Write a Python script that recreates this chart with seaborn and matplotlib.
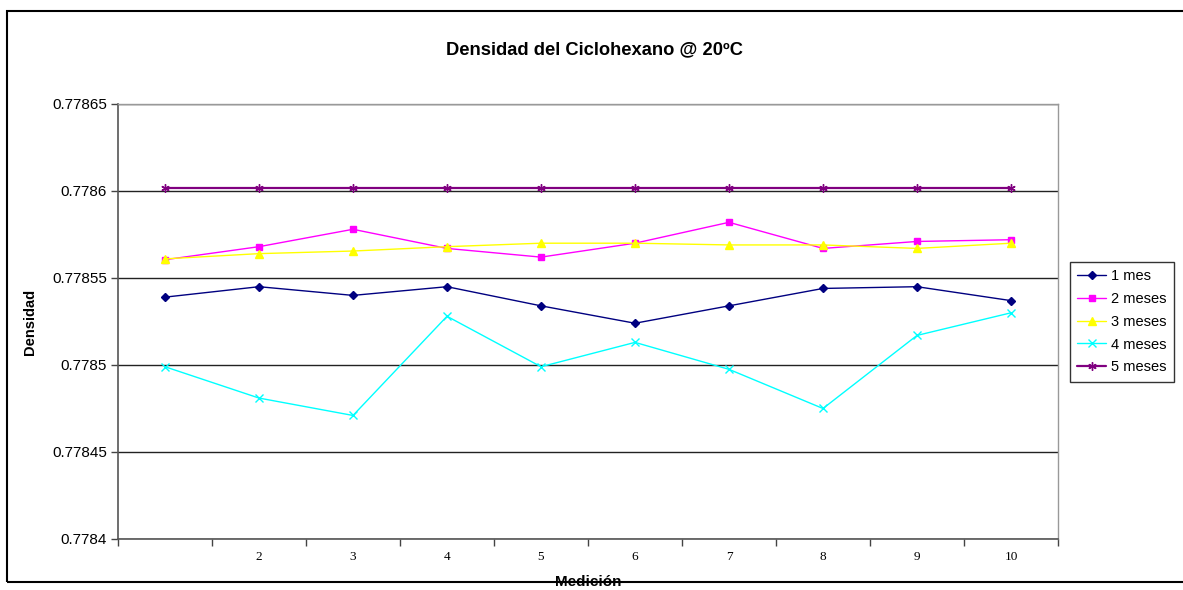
import numpy as np
import matplotlib
matplotlib.use("Agg")
import matplotlib.pyplot as plt
from matplotlib.patches import Rectangle
from matplotlib.ticker import MultipleLocator, FixedLocator, FuncFormatter
import seaborn as sns

# Measurement index and density readings for each ageing period
medicion = [1, 2, 3, 4, 5, 6, 7, 8, 9, 10]
x_labels = ["", "2", "3", "4", "5", "6", "7", "8", "9", "10"]

mes_1 = [0.778539, 0.778545, 0.778540, 0.778545, 0.778534,
         0.778524, 0.778534, 0.778544, 0.778545, 0.778537]
meses_2 = [0.7785605, 0.778568, 0.778578, 0.778567, 0.778562,
           0.778570, 0.778582, 0.778567, 0.778571, 0.778572]
meses_3 = [0.778561, 0.778564, 0.7785655, 0.778568, 0.778570,
           0.778570, 0.778569, 0.778569, 0.778567, 0.778570]
meses_4 = [0.778499, 0.778481, 0.778471, 0.778528, 0.778499,
           0.778513, 0.7784975, 0.778475, 0.778517, 0.778530]
meses_5 = [0.778602, 0.778602, 0.778602, 0.778602, 0.778602,
           0.778602, 0.778602, 0.778602, 0.778602, 0.778602]

series_names = ["1 mes", "2 meses", "3 meses", "4 meses", "5 meses"]
series_values = [mes_1, meses_2, meses_3, meses_4, meses_5]
series_colors = ["#000080", "#FF00FF", "#FFFF00", "#00FFFF", "#800080"]
series_markers = ["D", "s", "^", "x", (6, 2, 0)]
series_msizes = [4.5, 5.0, 5.5, 6.0, 6.0]
series_widths = [1.0, 1.0, 1.0, 1.0, 1.6]

sns.set_theme(style="white")
plt.rcParams["font.family"] = ["Liberation Sans", "DejaVu Sans"]
plt.rcParams.update({
    "text.color": "black",
    "axes.labelcolor": "black",
    "xtick.color": "black",
    "ytick.color": "black",
})

fig = plt.figure(figsize=(11.83, 5.90), dpi=100)
ax = fig.add_axes([118 / 1183, 1 - 539 / 590, 940 / 1183, 435 / 590])

for name, vals, col, mk, ms, lw in zip(series_names, series_values,
                                       series_colors, series_markers,
                                       series_msizes, series_widths):
    sns.lineplot(x=medicion, y=vals, color=col, marker=mk, markersize=ms,
                 markeredgecolor=col, markeredgewidth=1.0, linewidth=lw,
                 label=name, ax=ax)

ax.set_xlim(0.5, 10.5)
ax.set_ylim(0.7784, 0.77865)

# y axis: ticks every 0.00005, horizontal grid lines
ax.yaxis.set_major_locator(MultipleLocator(0.00005))
ax.yaxis.set_major_formatter(FuncFormatter(lambda v, p: f"{v:.5f}".rstrip("0")))
ax.grid(axis="y", color="#222222", linewidth=1.0)
ax.grid(axis="x", visible=False)
ax.tick_params(axis="y", which="major", left=True, length=5, width=1,
               color="#444444", labelsize=11, pad=3)

# x axis: tick marks on category boundaries, labels at centres
ax.xaxis.set_major_locator(FixedLocator(medicion))
ax.set_xticklabels(x_labels, fontfamily="Liberation Serif", fontsize=9.5)
ax.xaxis.set_minor_locator(FixedLocator(np.arange(0.5, 11, 1.0)))
ax.tick_params(axis="x", which="major", bottom=True, length=0, pad=9)
ax.tick_params(axis="x", which="minor", bottom=True, length=5, width=1,
               color="#444444")

for side in ("top", "right"):
    ax.spines[side].set_color("#999999")
    ax.spines[side].set_linewidth(1.0)
for side in ("left", "bottom"):
    ax.spines[side].set_color("#555555")
    ax.spines[side].set_linewidth(1.2)

ax.set_xlabel("")
ax.set_ylabel("Densidad", fontsize=10.5, fontweight="bold")
ax.yaxis.set_label_coords((37 - 118) / 940, 0.5)

leg = ax.legend(
    loc="upper left", bbox_to_anchor=(1070 / 1183, 1 - 262 / 590),
    bbox_transform=fig.transFigure, frameon=True, fontsize=10.5,
    handlelength=2.0, handletextpad=0.3, borderpad=0.5, labelspacing=0.6,
    fancybox=False, borderaxespad=0,
)
leg.get_frame().set_edgecolor("#000000")
leg.get_frame().set_linewidth(1.0)

fig.text(595 / 1183, 1 - 50 / 590, "Densidad del Ciclohexano @ 20ºC",
         ha="center", va="center", fontsize=13.2, fontweight="bold")
fig.text(588 / 1183, 1 - 589 / 590, "Medición", ha="center", va="bottom",
         fontsize=11, fontweight="bold")

# chart-area border
fig.patches.append(Rectangle((7 / 1183, 1 - 582 / 590), 1.2, (582 - 11) / 590,
                             transform=fig.transFigure, fill=False,
                             edgecolor="#000000", linewidth=1.5, zorder=-1))

fig.savefig("out.png", dpi=100)
